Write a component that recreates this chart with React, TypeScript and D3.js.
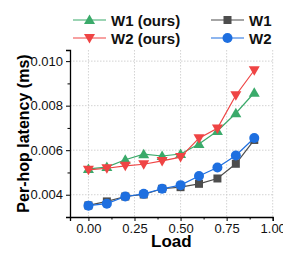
import { useEffect, useRef } from 'react';
import * as d3 from 'd3';

const loads = [0, 0.1, 0.2, 0.3, 0.4, 0.5, 0.6, 0.7, 0.8, 0.9];
const w1Ours = [0.00516, 0.00524, 0.00557, 0.00582, 0.00574, 0.00583, 0.00628, 0.00686, 0.00766, 0.00858];
const w2Ours = [0.00512, 0.00519, 0.0053, 0.00537, 0.00552, 0.00569, 0.00654, 0.00698, 0.00847, 0.00959];
const w1 = [0.00352, 0.0037, 0.00392, 0.00401, 0.00427, 0.00434, 0.00449, 0.00473, 0.00539, 0.00646];
const w2 = [0.00351, 0.0036, 0.00392, 0.00404, 0.00427, 0.00443, 0.00484, 0.00522, 0.00576, 0.00655];
const xTicks = [0, 0.25, 0.5, 0.75, 1.0];
const yTicks = [0.004, 0.006, 0.008, 0.01];

const series = [
  { name: 'W1 (ours)', values: w1Ours, color: '#3aaa6a', shape: 'up' },
  { name: 'W2 (ours)', values: w2Ours, color: '#ef4444', shape: 'down' },
  { name: 'W1', values: w1, color: '#4d4d4d', shape: 'square' },
  { name: 'W2', values: w2, color: '#1e6fe0', shape: 'circle' },
];

const font = 'Liberation Sans, Arial, sans-serif';

function drawMarker(g: any, shape: string, x: number, y: number, color: string) {
  if (shape === 'circle') {
    g.append('circle').attr('cx', x).attr('cy', y).attr('r', 5).attr('fill', color);
  } else if (shape === 'square') {
    g.append('rect').attr('x', x - 4).attr('y', y - 4).attr('width', 8).attr('height', 8).attr('fill', color);
  } else if (shape === 'up') {
    g.append('path').attr('d', `M${x},${y - 5.5}L${x + 5.5},${y + 4}L${x - 5.5},${y + 4}Z`).attr('fill', color);
  } else {
    g.append('path').attr('d', `M${x},${y + 5.5}L${x + 5.5},${y - 4}L${x - 5.5},${y - 4}Z`).attr('fill', color);
  }
}

export default function App() {
  const svgRef = useRef<SVGSVGElement>(null);

  useEffect(() => {
    if (!svgRef.current) return;
    const svg = d3.select(svgRef.current);
    svg.selectAll('*').remove();

    const left = 70, right = 272.7, top = 50, bottom = 217;
    const x = d3.scaleLinear().domain([-0.1, 1.0]).range([left, right]);
    const y = d3.scaleLinear().domain([0.003, 0.0105]).range([bottom, top]);

    // grid
    const grid = svg.append('g').attr('stroke', '#c8c8c8').attr('stroke-width', 0.8).attr('stroke-dasharray', '1.5,1.5');
    xTicks.forEach((t) => {
      grid.append('line').attr('x1', x(t)).attr('x2', x(t)).attr('y1', top).attr('y2', bottom);
    });
    yTicks.forEach((t) => {
      grid.append('line').attr('x1', left).attr('x2', right).attr('y1', y(t)).attr('y2', y(t));
    });

    // axes
    const xAxis = d3.axisBottom(x).tickValues(xTicks).tickSize(4).tickFormat(d3.format('.2f') as any);
    const gx = svg.append('g').attr('transform', `translate(0,${bottom})`).call(xAxis);
    gx.select('.domain').attr('stroke', '#000').attr('stroke-width', 1.3);
    gx.selectAll('text').attr('font-family', font).attr('font-size', 13).attr('fill', '#111');
    const xMinor = d3.axisBottom(x).tickValues([0.125, 0.375, 0.625, 0.875]).tickSize(2.5).tickFormat(() => '');
    svg.append('g').attr('transform', `translate(0,${bottom})`).call(xMinor).select('.domain').remove();

    const yAxis = d3.axisLeft(y).tickValues(yTicks).tickSize(4).tickFormat(d3.format('.3f') as any);
    const gy = svg.append('g').attr('transform', `translate(${left},0)`).call(yAxis);
    gy.select('.domain').attr('stroke', '#000').attr('stroke-width', 1.3);
    gy.selectAll('text').attr('font-family', font).attr('font-size', 13).attr('fill', '#111');
    const yMinor = d3.axisLeft(y).tickValues([0.005, 0.007, 0.009]).tickSize(2.5).tickFormat(() => '');
    svg.append('g').attr('transform', `translate(${left},0)`).call(yMinor).select('.domain').remove();

    // labels
    svg.append('text').attr('x', (left + right) / 2).attr('y', 246.5).attr('text-anchor', 'middle')
      .attr('font-family', font).attr('font-weight', 'bold').attr('font-size', 17).text('Load');
    svg.append('text').attr('transform', `translate(29,133.5) rotate(-90)`).attr('text-anchor', 'middle')
      .attr('font-family', font).attr('font-weight', 'bold').attr('font-size', 16).text('Per-hop latency (ms)');

    // series
    const line = d3.line<number>().x((_, i) => x(loads[i])).y((d) => y(d));
    series.forEach((s) => {
      const g = svg.append('g');
      g.append('path').attr('d', line(s.values) || '').attr('fill', 'none').attr('stroke', s.color).attr('stroke-width', 1.2);
      s.values.forEach((v, i) => drawMarker(g, s.shape, x(loads[i]), y(v), s.color));
    });

    // legend
    const legendPos = [
      { lx: 73, ly: 20 },
      { lx: 73, ly: 38 },
      { lx: 211, ly: 20 },
      { lx: 211, ly: 38 },
    ];
    series.forEach((s, i) => {
      const { lx, ly } = legendPos[i];
      const g = svg.append('g');
      g.append('line').attr('x1', lx).attr('x2', lx + 33).attr('y1', ly).attr('y2', ly).attr('stroke', s.color).attr('stroke-width', 1.2);
      drawMarker(g, s.shape, lx + 16.5, ly, s.color);
      g.append('text').attr('x', lx + 38).attr('y', ly + 5.5).attr('font-family', font).attr('font-weight', 'bold')
        .attr('font-size', 15).attr('fill', '#111').text(s.name);
    });
  }, []);

  return <svg ref={svgRef} width={283} height={257} style={{ position: 'absolute', left: 0, top: 0 }} />;
}
